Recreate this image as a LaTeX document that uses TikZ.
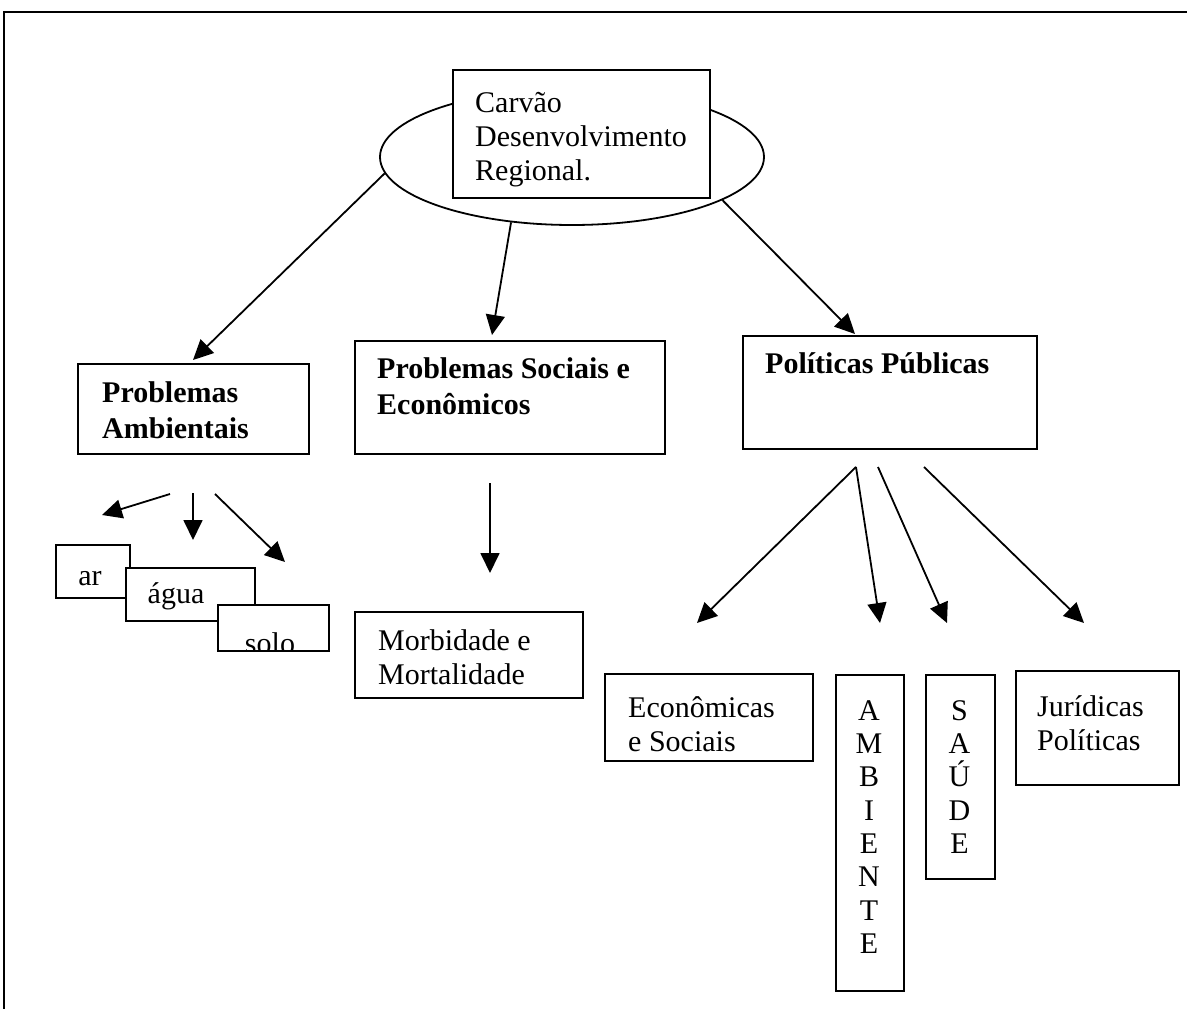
\documentclass[tikz,border=0pt]{standalone}
\usepackage{fontspec}
\setmainfont{Liberation Serif}
\usetikzlibrary{shapes.geometric,arrows.meta}
\begin{document}
\begin{tikzpicture}[x=1pt,y=-1pt,
  box/.style={draw, line width=1.8pt, fill=white, anchor=north west, inner sep=0pt},
  txt/.style={anchor=north west, inner sep=0pt, align=left, font=\fontsize{30}{34}\selectfont},
  btxt/.style={anchor=north west, inner sep=0pt, align=left, font=\fontsize{30}{36}\selectfont\bfseries},
  vtxt/.style={anchor=north, inner sep=0pt, align=center, font=\fontsize{30}{33.3}\selectfont},
  stxt/.style={anchor=base, inner sep=0pt, font=\fontsize{30}{34}\selectfont},
  arr/.style={line width=1.8pt, -{Triangle[length=20pt,width=19pt]}},
]
\useasboundingbox (0,0) rectangle (1187,1009);
% frame
\coordinate (fbl) at (4,1009);
\coordinate (ftl) at (4,12);
\coordinate (ftr) at (1187,12);
\draw[line width=2.5pt] (fbl) -- (ftl) -- (ftr);

% central ellipse and box
\node[draw, ellipse, line width=1.8pt, minimum width=384pt, minimum height=136pt, inner sep=0pt] (ell) at (572,157) {};
\node[box, minimum width=257pt, minimum height=128pt] (carvao) at (452,69) {};
\node[txt] (carvaot) at (475,88.2) {\strut Carvão\\Desenvolvimento\\Regional.};

% second level
\node[box, minimum width=231pt, minimum height=90pt] (amb) at (77,363) {};
\node[btxt] (ambt) at (102,376.8) {\strut Problemas\\Ambientais};
\node[box, minimum width=310pt, minimum height=113pt] (soc) at (354,340) {};
\node[btxt] (soct) at (377,352.8) {\strut Problemas Sociais e\\Econômicos};
\node[box, minimum width=294pt, minimum height=113pt] (pol) at (742,335) {};
\node[btxt] (polt) at (765,347.8) {\strut Políticas Públicas};

% main arrows
\coordinate (a1t) at (193,360);
\coordinate (a2t) at (492,335);
\coordinate (a3t) at (855,334);
\draw[arr] (ell.185) -- (a1t);
\draw[arr] (ell.227) -- (a2t);
\draw[arr] (ell.344) -- (a3t);

% environmental sub-items
\node[box, minimum width=74pt, minimum height=53pt] (ar) at (55,544) {};
\node[stxt] (art) at (90,585) {ar};
\node[box, minimum width=129pt, minimum height=53pt] (agua) at (125,567) {};
\node[stxt] (aguat) at (176,603) {água};
\node[box, minimum width=111pt, minimum height=46pt] (solo) at (217,604) {};
\begin{scope}
\clip (solo.north west) rectangle (solo.south east);
\node[stxt] (solot) at (270,653) {solo};
\end{scope}
\coordinate (e1s) at (170,494); \coordinate (e1t) at (102,515);
\coordinate (e2s) at (193,493); \coordinate (e2t) at (193,540);
\coordinate (e3s) at (215,494); \coordinate (e3t) at (285,562);
\draw[arr] (e1s) -- (e1t);
\draw[arr] (e2s) -- (e2t);
\draw[arr] (e3s) -- (e3t);

% social sub-item
\coordinate (s0) at (490,483); \coordinate (s1) at (490,573);
\draw[arr] (s0) -- (s1);
\node[box, minimum width=228pt, minimum height=86pt] (morb) at (354,611) {};
\node[txt] (morbt) at (378,626.2) {\strut Morbidade e\\Mortalidade};

% policy sub-items
\node[box, minimum width=208pt, minimum height=87pt] (econ) at (604,673) {};
\node[txt] (econt) at (628,693.2) {\strut Econômicas\\e Sociais};
\node[box, minimum width=68pt, minimum height=316pt] (ambi) at (835,674) {};
\node[vtxt] (ambit) at (869,696.7) {\strut A\\M\\B\\I\\E\\N\\T\\E};
\node[box, minimum width=69pt, minimum height=204pt] (saude) at (925,674) {};
\node[vtxt] (saudet) at (959.5,696.7) {\strut S\\A\\Ú\\D\\E};
\node[box, minimum width=163pt, minimum height=114pt] (jur) at (1015,670) {};
\node[txt] (jurt) at (1037,692.2) {\strut Jurídicas\\Políticas};

\coordinate (p1s) at (856,467); \coordinate (p1t) at (697,623);
\coordinate (p2s) at (856,467); \coordinate (p2t) at (880,623);
\coordinate (p3s) at (878,467); \coordinate (p3t) at (947,623);
\coordinate (p4s) at (924,467); \coordinate (p4t) at (1084,623);
\draw[arr] (p1s) -- (p1t);
\draw[arr] (p2s) -- (p2t);
\draw[arr] (p3s) -- (p3t);
\draw[arr] (p4s) -- (p4t);
\end{tikzpicture}
\end{document}
